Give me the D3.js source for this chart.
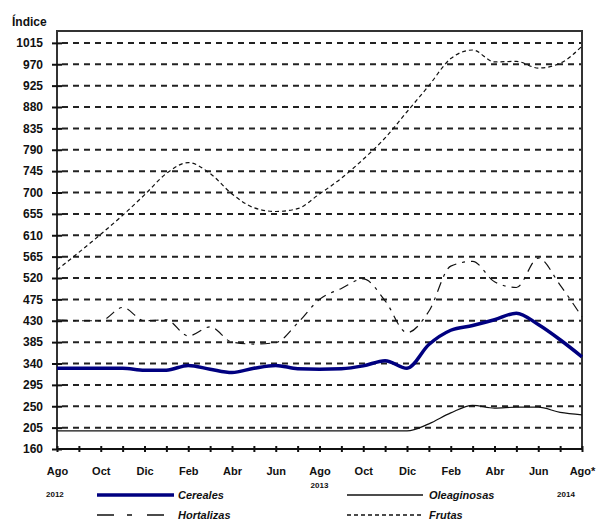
<!DOCTYPE html>
<html><head><meta charset="utf-8">
<script src="https://cdn.jsdelivr.net/npm/d3@7/dist/d3.min.js"></script>
<style>body{margin:0;background:#fff}svg{display:block}text{font-family:"Liberation Sans",Arial,sans-serif;font-weight:bold;fill:#111}</style>
</head><body>
<svg id="c" width="599" height="521"></svg>
<script>
const months = ["Ago","Sep","Oct","Nov","Dic","Ene","Feb","Mar","Abr","May","Jun","Jul","Ago","Sep","Oct","Nov","Dic","Ene","Feb","Mar","Abr","May","Jun","Jul","Ago*"];
const years = [{i:0,label:"2012"},{i:12,label:"2013"},{i:24,label:"2014"}];
const yTicks = [160,205,250,295,340,385,430,475,520,565,610,655,700,745,790,835,880,925,970,1015];
const cereales = [330,330,330,330,326,326,336,328,321,330,336,329,328,329,335,346,330,380,410,420,432,446,422,390,354];
const oleaginosas = [198,198,198,198,198,198,198,198,198,198,198,198,198,198,198,198,198,213,236,252,246,248,248,237,232];
const hortalizas = [432,430,430,458,430,432,398,417,385,381,384,425,475,498,518,472,405,450,545,555,512,500,562,505,438];
const frutas = [537,574,612,652,695,740,763,740,697,668,660,666,697,730,770,815,870,925,982,1000,975,976,962,972,1008];

const svg = d3.select("#c");
const L=57,R=582,T=31,B=449;
const x = d3.scalePoint().domain(d3.range(months.length)).range([L,R]);
const y = d3.scaleLinear().domain([160,1040]).range([B,T]);

// grid
svg.append("g").selectAll("line").data(yTicks.slice(1)).join("line")
  .attr("x1",L+5).attr("x2",R).attr("y1",d=>y(d)).attr("y2",d=>y(d))
  .attr("stroke","#222").attr("stroke-width",2).attr("stroke-dasharray","6,5");

// frame
svg.append("path").attr("d",`M${L},${B}V${T}H${R}V${B}`).attr("fill","none").attr("stroke","#333").attr("stroke-width",2);

// y axis
const ya = svg.append("g").attr("transform",`translate(${L},0)`)
  .call(d3.axisLeft(y).tickValues(yTicks).tickSize(5).tickPadding(9).tickFormat(d3.format("d")));
ya.select(".domain").remove();
ya.selectAll(".tick line").attr("x1",-5).attr("x2",5).attr("stroke","#111").attr("stroke-width",2);
ya.selectAll(".tick text").style("font-size","12px").attr("fill","#111");

// x axis
const xa = svg.append("g").attr("transform",`translate(0,${B})`)
  .call(d3.axisBottom(x).tickSize(3).tickPadding(15).tickFormat(i=> i%2===0?months[i]:""));
xa.select(".domain").attr("stroke","#111").attr("stroke-width",2).attr("d",`M${L},0H${R}`);
xa.selectAll(".tick line").attr("y1",-3).attr("y2",3).attr("stroke","#111").attr("stroke-width",2);
xa.selectAll(".tick text").style("font-size","11px").attr("fill","#111");

svg.selectAll(".yr").data(years).join("text").attr("class","yr")
  .attr("x",d=>x(d.i)+(d.i===0?-11:(d.i===24?-16:0)))
  .attr("y",d=>d.i===12?488:497)
  .attr("text-anchor",d=>d.i===0?"start":"middle")
  .style("font-size","8px").text(d=>d.label);

svg.append("text").attr("x",12).attr("y",26).style("font-size","12px").text("Índice");

const line = d3.line().x((d,i)=>x(i)).y(d=>y(d)).curve(d3.curveMonotoneX);
svg.append("path").datum(frutas).attr("d",line).attr("fill","none").attr("stroke","#111").attr("stroke-width",1.2).attr("stroke-dasharray","4,3");
svg.append("path").datum(hortalizas).attr("d",line).attr("fill","none").attr("stroke","#111").attr("stroke-width",1.2).attr("stroke-dasharray","10,6,3,6");
svg.append("path").datum(oleaginosas).attr("d",line).attr("fill","none").attr("stroke","#111").attr("stroke-width",1.2);
svg.append("path").datum(cereales).attr("d",line).attr("fill","none").attr("stroke","#000080").attr("stroke-width",3.5);

// legend
const legend = [
  {name:"Cereales",x1:97,x2:174,y:495,c:"#000080",w:3.5,dash:null,tx:178},
  {name:"Hortalizas",x1:97,x2:164,y:515,c:"#111",w:1.3,dash:"17,13,5,15",tx:178},
  {name:"Oleaginosas",x1:347,x2:423,y:495,c:"#111",w:1.3,dash:null,tx:429},
  {name:"Frutas",x1:347,x2:423,y:515,c:"#111",w:1.3,dash:"4,3",tx:429}
];
const lg = svg.append("g");
legend.forEach(d=>{
  lg.append("line").attr("x1",d.x1).attr("x2",d.x2).attr("y1",d.y).attr("y2",d.y)
    .attr("stroke",d.c).attr("stroke-width",d.w).attr("stroke-dasharray",d.dash);
  lg.append("text").attr("x",d.tx).attr("y",d.y+4).style("font-size","11px").style("font-style","italic").text(d.name);
});
</script>
</body></html>
